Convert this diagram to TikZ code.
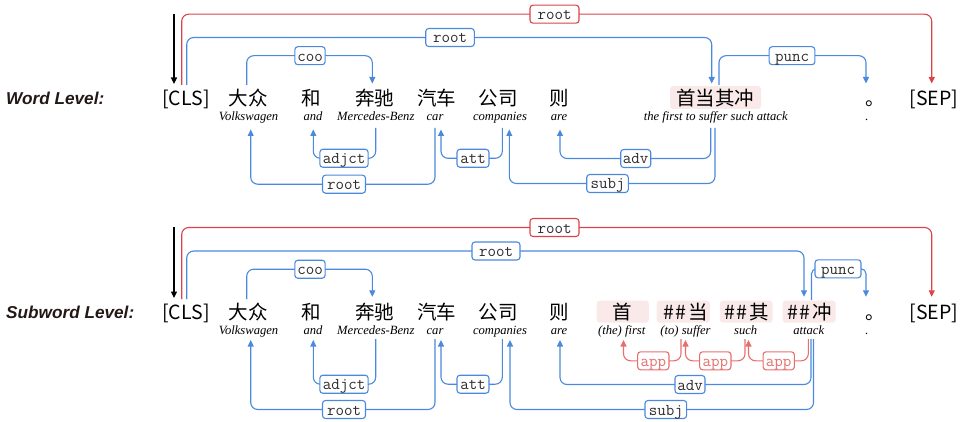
\documentclass[tikz,border=0pt]{standalone}
\usepackage{fontspec}
\newfontfamily\cjk{Noto Sans CJK SC}
\newfontfamily\trf{Liberation Serif}
\newfontfamily\lvf{Liberation Sans}
\usetikzlibrary{arrows.meta}
\definecolor{barc}{RGB}{74,137,220}
\definecolor{rarc}{RGB}{217,68,74}
\definecolor{aarc}{RGB}{232,110,110}
\definecolor{pinkf}{RGB}{250,233,233}
\definecolor{labtext}{RGB}{45,45,45}
\definecolor{lvtext}{RGB}{35,24,21}
\pgfdeclarelayer{bg}
\pgfsetlayers{bg,main}
\newcommand{\hh}{\#\kern0.8pt\#\kern2.2pt}
\tikzset{
  tok/.style={font=\cjk\fontsize{19.5}{20}\selectfont, inner sep=0pt, anchor=base},
  tr/.style={font=\trf\itshape\fontsize{12.6}{13}\selectfont, inner sep=0pt, anchor=base, text=black},
  lvl/.style={font=\lvf\bfseries\itshape\fontsize{17.2}{18}\selectfont, inner sep=0pt, anchor=base west, text=lvtext},
  lab/.style={draw=barc, fill=white, line width=1.1pt, rounded corners=3pt, inner xsep=2pt, inner ysep=0pt,
    minimum height=18pt, text height=13pt, text depth=2pt, font=\ttfamily\fontsize{16.5}{16.5}\selectfont, text=labtext},
  rlab/.style={lab, draw=rarc},
  alab/.style={lab, draw=aarc, text=aarc},
  pinkbox/.style={fill=pinkf, rounded corners=3pt, inner sep=0pt},
  dep/.style={draw=barc, line width=1.1pt, rounded corners=7pt, -{Triangle[length=6.5pt,width=6pt]}},
  rdep/.style={dep, draw=rarc},
  adep/.style={dep, draw=aarc},
  kdep/.style={draw=black, line width=1.1pt, -{Triangle[length=6.5pt,width=6pt]}},
}
\begin{document}
\begin{tikzpicture}[x=1pt,y=-1pt]
\useasboundingbox (0,0) rectangle (960,422);

% ================= Word level =================
\node[lvl] (wl) at (6,105) {Word Level:};
\node[pinkbox, minimum width=91pt, minimum height=23pt] (wpink) at (715.5,97.5) {};
\node[tok] (wcls) at (186,106) {[CLS]};
\node[tok] (w1) at (248.3,106) {大众};
\node[tok] (w2) at (311.7,106) {和};
\node[tok] (w3) at (374.7,106) {奔驰};
\node[tok] (w4) at (436.7,106) {汽车};
\node[tok] (w5) at (498,106) {公司};
\node[tok] (w6) at (559,106) {则};
\node[tok] (w7) at (715.3,106) {首当其冲};
\node[tok] (w8) at (875,106) {。};
\node[tok] (wsep) at (934,106) {[SEP]};
\node[tr] (wt1) at (248.5,121) {Volkswagen};
\node[tr] (wt2) at (313,121) {and};
\node[tr] (wt3) at (375.8,121) {Mercedes-Benz};
\node[tr] (wt4) at (435,121) {car};
\node[tr] (wt5) at (500,121) {companies};
\node[tr] (wt6) at (559,121) {are};
\node[tr] (wt7) at (715.7,121) {the first to suffer such attack};
\node[tr] (wt8) at (867,121) {.};

\node[rlab, minimum width=49pt] (wlroot) at (554.5,14.2) {root};
\node[lab, minimum width=48.6pt] (wlroot1) at (450,37.5) {root};
\node[lab, minimum width=30.3pt] (wlcoo) at (310,55.7) {coo};
\node[lab, minimum width=45.7pt] (wlpunc) at (792,55.7) {punc};
\node[lab, minimum width=48.3pt] (wladjct) at (344,158.3) {adjct};
\node[lab, minimum width=43pt] (wlroot2) at (344,184.2) {root};
\node[lab, minimum width=32pt] (wlatt) at (473,158.3) {att};
\node[lab, minimum width=30pt] (wladv) at (635.7,158.5) {adv};
\node[lab, minimum width=41.6pt] (wlsubj) at (607.5,183.5) {subj};

\coordinate (wk0) at (174,14.3);   \coordinate (wk1) at (174,84);
\coordinate (wr0) at (181.7,85);   \coordinate (wr1) at (931.7,83.5);
\coordinate (wb0) at (186.7,85);   \coordinate (wb1) at (711.7,83.5);
\coordinate (wc0) at (246.7,85);   \coordinate (wc1) at (372.3,83.5);
\coordinate (wp0) at (719,85);     \coordinate (wp1) at (866,83.5);
\coordinate (wa0) at (375.7,128);  \coordinate (wa1) at (313.3,129.5);
\coordinate (wo0) at (435,128);    \coordinate (wo1) at (250.7,129.5);
\coordinate (wt0) at (502.3,128);  \coordinate (wtt1) at (441,129.5);
\coordinate (wv0) at (710.7,128);  \coordinate (wv1) at (560,129.5);
\coordinate (ws0) at (715,128);    \coordinate (ws1) at (509.3,129.5);

% ================= Subword level =================
\node[lvl] (sl) at (6,318.3) {Subword Level:};
\node[pinkbox, minimum width=52.3pt, minimum height=22pt] (sp1) at (622.8,311.7) {};
\node[pinkbox, minimum width=53.3pt, minimum height=22pt] (sp2) at (683.3,311.7) {};
\node[pinkbox, minimum width=52.7pt, minimum height=22pt] (sp3) at (746.3,311.7) {};
\node[pinkbox, minimum width=53pt, minimum height=22pt] (sp4) at (809.2,311.7) {};
\node[tok] (scls) at (186,319.4) {[CLS]};
\node[tok] (s1) at (248.3,319.4) {大众};
\node[tok] (s2) at (311.7,319.4) {和};
\node[tok] (s3) at (374.7,319.4) {奔驰};
\node[tok] (s4) at (436.7,319.4) {汽车};
\node[tok] (s5) at (498,319.4) {公司};
\node[tok] (s6) at (559,319.4) {则};
\node[tok] (s7) at (622.7,319.4) {首};
\node[tok] (s8) at (685.8,319.4) {\hh 当};
\node[tok] (s9) at (746.5,319.4) {\hh 其};
\node[tok] (s10) at (809.5,319.4) {\hh 冲};
\node[tok] (s11) at (875,319.4) {。};
\node[tok] (ssep) at (934,319.4) {[SEP]};
\node[tr] (st1) at (248.5,334.2) {Volkswagen};
\node[tr] (st2) at (313,334.2) {and};
\node[tr] (st3) at (375.8,334.2) {Mercedes-Benz};
\node[tr] (st4) at (435,334.2) {car};
\node[tr] (st5) at (500,334.2) {companies};
\node[tr] (st6) at (559,334.2) {are};
\node[tr] (st7) at (621.7,334.2) {(the) first};
\node[tr] (st8) at (685.5,334.2) {(to) suffer};
\node[tr] (st9) at (745.7,334.2) {such};
\node[tr] (st10) at (808.7,334.2) {attack};
\node[tr] (st11) at (867,334.2) {.};

\node[rlab, minimum width=49pt] (slroot) at (554.5,227.5) {root};
\node[lab, minimum width=48pt] (slroot1) at (496,251) {root};
\node[lab, minimum width=30.3pt] (slcoo) at (310,269.2) {coo};
\node[lab, minimum width=46pt] (slpunc) at (838,268.8) {punc};
\node[lab, minimum width=48.3pt] (sladjct) at (344,384.2) {adjct};
\node[lab, minimum width=43pt] (slroot2) at (344,409.5) {root};
\node[lab, minimum width=32pt] (slatt) at (473,384.2) {att};
\node[lab, minimum width=30pt] (sladv) at (690,384.5) {adv};
\node[lab, minimum width=41.7pt] (slsubj) at (665.8,409.5) {subj};
\node[alab, minimum width=31.3pt] (slapp1) at (653.3,360.8) {app};
\node[alab, minimum width=31.3pt] (slapp2) at (715.3,360.8) {app};
\node[alab, minimum width=31.3pt] (slapp3) at (778.7,360.8) {app};

\coordinate (sk0) at (174,227.3);  \coordinate (sk1) at (174,298);
\coordinate (sr0) at (181.7,299);  \coordinate (sr1) at (931.7,296.8);
\coordinate (sb0) at (186.7,299);  \coordinate (sb1) at (804,296.8);
\coordinate (sc0) at (246.7,299);  \coordinate (sc1) at (372.3,296.8);
\coordinate (sq0) at (811.5,300);  \coordinate (sq1) at (866,296.8);
\coordinate (sa0) at (375.7,339);  \coordinate (sa1) at (313.3,340);
\coordinate (so0) at (435,339);    \coordinate (so1) at (250.7,340);
\coordinate (st0) at (502.3,339);  \coordinate (stt1) at (441,340);
\coordinate (sv0) at (811,339);    \coordinate (sv1) at (560,340);
\coordinate (ss0) at (813.5,339);  \coordinate (ss1) at (510,340);
\coordinate (sx10) at (681,339);   \coordinate (sx11) at (623.5,340);
\coordinate (sx20) at (745,339);   \coordinate (sx21) at (685.5,340);
\coordinate (sx30) at (808.3,339); \coordinate (sx31) at (748.5,340);

\begin{pgfonlayer}{bg}
  % word level
  \draw[kdep] (wk0) -- (wk1);
  \draw[rdep] (wr0) |- (wlroot.center) -| (wr1);
  \draw[dep] (wb0) |- (wlroot1.center) -| (wb1);
  \draw[dep] (wc0) |- (wlcoo.center) -| (wc1);
  \draw[dep] (wp0) |- (wlpunc.center) -| (wp1);
  \draw[dep] (wa0) |- (wladjct.center) -| (wa1);
  \draw[dep] (wo0) |- (wlroot2.center) -| (wo1);
  \draw[dep] (wt0) |- (wlatt.center) -| (wtt1);
  \draw[dep] (wv0) |- (wladv.center) -| (wv1);
  \draw[dep] (ws0) |- (wlsubj.center) -| (ws1);
  % subword level
  \draw[kdep] (sk0) -- (sk1);
  \draw[rdep] (sr0) |- (slroot.center) -| (sr1);
  \draw[dep] (sb0) |- (slroot1.center) -| (sb1);
  \draw[dep] (sc0) |- (slcoo.center) -| (sc1);
  \draw[dep, rounded corners=5pt] (sq0) |- (slpunc.center) -| (sq1);
  \draw[dep] (sa0) |- (sladjct.center) -| (sa1);
  \draw[dep] (so0) |- (slroot2.center) -| (so1);
  \draw[dep] (st0) |- (slatt.center) -| (stt1);
  \draw[dep] (sv0) |- (sladv.center) -| (sv1);
  \draw[dep] (ss0) |- (slsubj.center) -| (ss1);
  \draw[adep] (sx10) |- (slapp1.center) -| (sx11);
  \draw[adep] (sx20) |- (slapp2.center) -| (sx21);
  \draw[adep] (sx30) |- (slapp3.center) -| (sx31);
\end{pgfonlayer}
\end{tikzpicture}
\end{document}
